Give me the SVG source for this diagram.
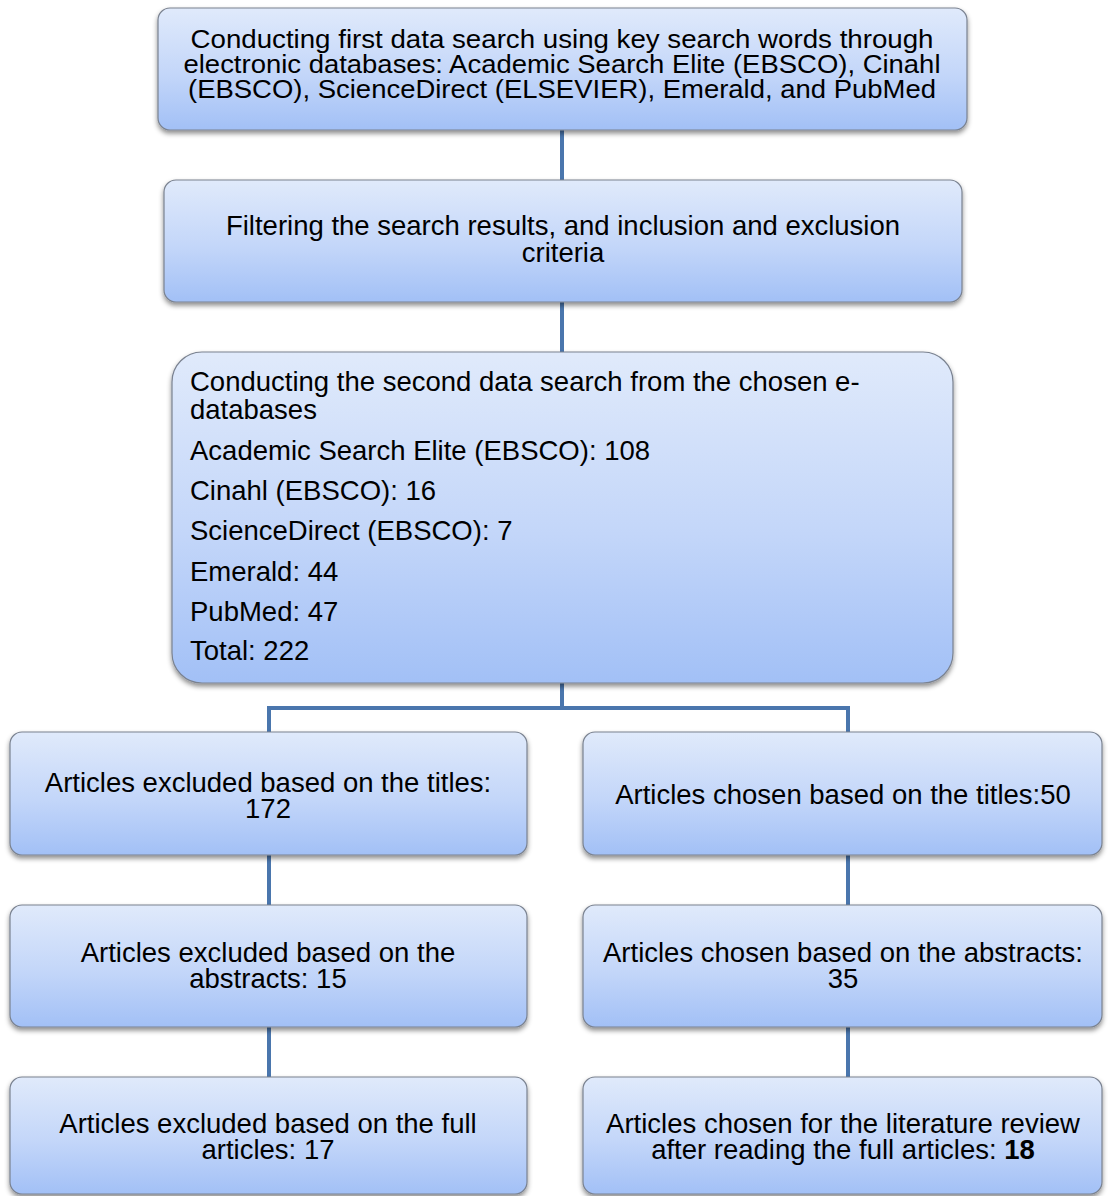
<svg xmlns="http://www.w3.org/2000/svg" width="1112" height="1196" viewBox="0 0 1112 1196">
<defs>
<linearGradient id="g" x1="0" y1="0" x2="0" y2="1">
<stop offset="0" stop-color="#e0eafb"/>
<stop offset="0.55" stop-color="#c3d6f9"/>
<stop offset="1" stop-color="#a2c0f6"/>
</linearGradient>
<filter id="sh" x="-5%" y="-10%" width="110%" height="125%">
<feDropShadow dx="0" dy="3" stdDeviation="2.5" flood-color="#000" flood-opacity="0.45"/>
</filter>
</defs>
<style>
.box{fill:url(#g);stroke:#7a8290;stroke-width:1.2;filter:url(#sh)}
.t{font-family:"Liberation Sans",Arial,sans-serif;font-size:27.5px;fill:#000;text-anchor:middle}
.s{font-size:26px}
.l{text-anchor:start}
.c{stroke:#4a76ad;stroke-width:4;fill:none}
</style>
<g id="connectors">
<path class="c" d="M562 130V180M562 302V352M562 683V708M269 732V708H848V732M269 855V905M848 855V905M269 1027V1077M848 1027V1077"/>
</g>
<g id="n1">
<rect class="box" x="158" y="8" width="809" height="122" rx="12"/>
<text class="t s" x="562" y="48" textLength="743" lengthAdjust="spacingAndGlyphs">Conducting first data search using key search words through</text>
<text class="t s" x="562" y="73" textLength="757" lengthAdjust="spacingAndGlyphs">electronic databases: Academic Search Elite (EBSCO), Cinahl</text>
<text class="t s" x="562" y="98" textLength="748" lengthAdjust="spacingAndGlyphs">(EBSCO), ScienceDirect (ELSEVIER), Emerald, and PubMed</text>
</g>
<g id="n2">
<rect class="box" x="164" y="180" width="798" height="122" rx="12"/>
<text class="t" x="563" y="235">Filtering the search results, and inclusion and exclusion</text>
<text class="t" x="563" y="262">criteria</text>
</g>
<g id="n3">
<rect class="box" x="172" y="352" width="781" height="331" rx="30"/>
<text class="t l" x="190" y="391">Conducting the second data search from the chosen e-</text>
<text class="t l" x="190" y="419">databases</text>
<text class="t l" x="190" y="460">Academic Search Elite (EBSCO): 108</text>
<text class="t l" x="190" y="500">Cinahl (EBSCO): 16</text>
<text class="t l" x="190" y="540">ScienceDirect (EBSCO): 7</text>
<text class="t l" x="190" y="581">Emerald: 44</text>
<text class="t l" x="190" y="621">PubMed: 47</text>
<text class="t l" x="190" y="660">Total: 222</text>
</g>
<g id="n4">
<rect class="box" x="10" y="732" width="517" height="123" rx="12"/>
<text class="t" x="268" y="792">Articles excluded based on the titles:</text>
<text class="t" x="268" y="818">172</text>
</g>
<g id="n5">
<rect class="box" x="583" y="732" width="519" height="123" rx="12"/>
<text class="t" x="843" y="804">Articles chosen based on the titles:50</text>
</g>
<g id="n6">
<rect class="box" x="10" y="905" width="517" height="122" rx="12"/>
<text class="t" x="268" y="962">Articles excluded based on the</text>
<text class="t" x="268" y="988">abstracts: 15</text>
</g>
<g id="n7">
<rect class="box" x="583" y="905" width="519" height="122" rx="12"/>
<text class="t" x="843" y="962">Articles chosen based on the abstracts:</text>
<text class="t" x="843" y="988">35</text>
</g>
<g id="n8">
<rect class="box" x="10" y="1077" width="517" height="117" rx="12"/>
<text class="t" x="268" y="1133">Articles excluded based on the full</text>
<text class="t" x="268" y="1159">articles: 17</text>
</g>
<g id="n9">
<rect class="box" x="583" y="1077" width="519" height="117" rx="12"/>
<text class="t" x="843" y="1133">Articles chosen for the literature review</text>
<text class="t" x="843" y="1159">after reading the full articles: <tspan font-weight="bold">18</tspan></text>
</g>
</svg>
